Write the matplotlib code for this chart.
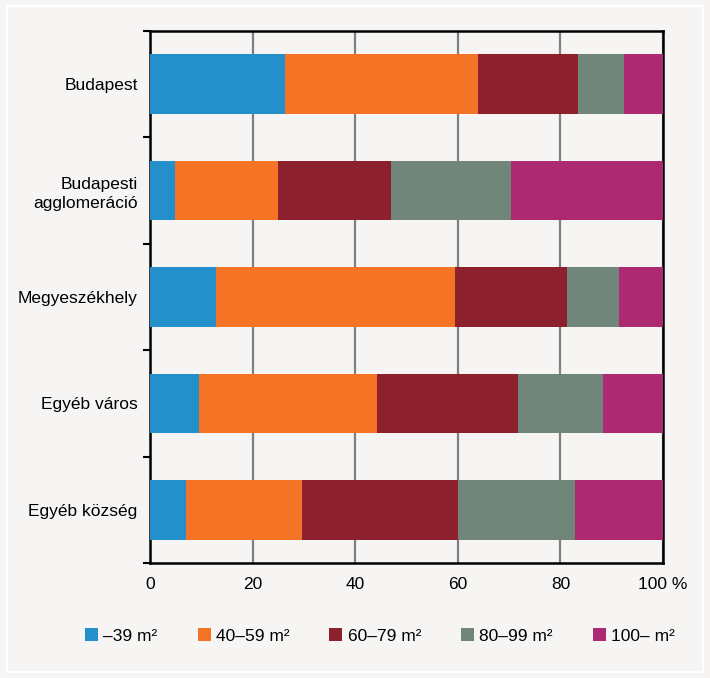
import numpy as np
import matplotlib.pyplot as plt
from matplotlib.patches import Rectangle

plt.rcParams['font.family'] = ['Liberation Sans', 'DejaVu Sans']

# data (percent of dwellings by floor area)
regions = ['Budapest', 'Budapesti\nagglomeráció', 'Megyeszékhely', 'Egyéb város', 'Egyéb község']
size_labels = ['–39 m²', '40–59 m²', '60–79 m²', '80–99 m²', '100– m²']
s_39 = [26.4, 4.8, 12.8, 9.5, 7.0]
s_40_59 = [37.6, 20.1, 46.7, 34.8, 22.6]
s_60_79 = [19.5, 22.1, 21.8, 27.5, 30.5]
s_80_99 = [8.9, 23.4, 10.1, 16.6, 22.8]
s_100 = [7.6, 29.6, 8.6, 11.6, 17.1]
colors = ['#2390cb', '#f47325', '#8c212d', '#71867a', '#ad2a72']

bg = '#f6f5f3'
fig = plt.figure(figsize=(7.1, 6.78), dpi=100, facecolor=bg)
fig.patches.append(Rectangle((7/710, 6/678), 696/710, 666/678, transform=fig.transFigure,
                             fill=False, edgecolor='white', lw=1.5))
ax = fig.add_axes([150/710, 1-563/678, 513/710, 532/678])
ax.set_facecolor(bg)

y = np.arange(len(regions))
left = np.zeros(len(regions))
for vals, c, lab in zip([s_39, s_40_59, s_60_79, s_80_99, s_100], colors, size_labels):
    ax.barh(y, vals, left=left, height=0.56, color=c, label=lab, zorder=3)
    left += np.array(vals)

ax.set_xlim(0, 100)
ax.set_ylim(4.5, -0.5)
ax.set_xticks([0, 20, 40, 60, 80, 100])
ax.set_xticklabels(['0', '20', '40', '60', '80', '100 %'])
ax.set_yticks(y)
ax.set_yticklabels(regions, linespacing=1.3)
ax.set_yticks(np.arange(-0.5, 5, 1), minor=True)
ax.tick_params(axis='y', which='major', length=0, pad=9, labelsize=12.5)
ax.tick_params(axis='y', which='minor', length=5, width=1.5, direction='out')
ax.tick_params(axis='x', length=0, pad=10, labelsize=12.5)
ax.xaxis.grid(True, color='#7f7f7f', lw=1.6, zorder=0)
ax.set_axisbelow(True)
for sp in ax.spines.values():
    sp.set_color('black')
    sp.set_linewidth(1.8)

ax.legend(loc='center', bbox_to_anchor=(380/710, 1-636/678), bbox_transform=fig.transFigure,
          ncol=5, frameon=False, fontsize=12.5, handlelength=0.75, handleheight=0.75,
          handletextpad=0.3, columnspacing=2.3)

fig.savefig('out.png', dpi=100, facecolor=bg)
